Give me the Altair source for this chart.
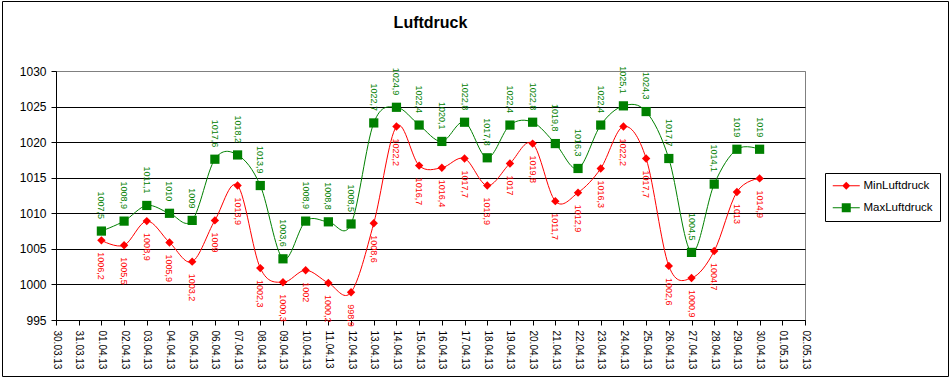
import json
import altair as alt
import pandas as pd

# ---- data ----
tick_labels = [
    "30.03.13", "31.03.13", "01.04.13", "02.04.13", "03.04.13", "04.04.13",
    "05.04.13", "06.04.13", "07.04.13", "08.04.13", "09.04.13", "10.04.13",
    "11.04.13", "12.04.13", "13.04.13", "14.04.13", "15.04.13", "16.04.13",
    "17.04.13", "18.04.13", "19.04.13", "20.04.13", "21.04.13", "22.04.13",
    "23.04.13", "24.04.13", "25.04.13", "26.04.13", "27.04.13", "28.04.13",
    "29.04.13", "30.04.13", "01.05.13", "02.05.13",
]
dates = tick_labels[2:32]  # 01.04.13 .. 30.04.13

min_luftdruck = [
    1006.2, 1005.5, 1008.9, 1005.9, 1003.2, 1009.0, 1013.9, 1002.3, 1000.3, 1002.0,
    1000.2, 998.9, 1008.6, 1022.2, 1016.7, 1016.4, 1017.7, 1013.9, 1017.0, 1019.8,
    1011.7, 1012.9, 1016.3, 1022.2, 1017.7, 1002.6, 1000.9, 1004.7, 1013.0, 1014.9,
]
max_luftdruck = [
    1007.5, 1008.9, 1011.1, 1010.0, 1009.0, 1017.6, 1018.2, 1013.9, 1003.6, 1008.9,
    1008.8, 1008.5, 1022.7, 1024.9, 1022.4, 1020.1, 1022.8, 1017.8, 1022.4, 1022.8,
    1019.8, 1016.3, 1022.4, 1025.1, 1024.3, 1017.7, 1004.5, 1014.1, 1019.0, 1019.0,
]
series_names = ["MinLuftdruck", "MaxLuftdruck"]
series_colors = ["#ff0000", "#008000"]
y_ticks = [995, 1000, 1005, 1010, 1015, 1020, 1025, 1030]

# ---- long table ----
rows = []
for name, values in zip(series_names, [min_luftdruck, max_luftdruck]):
    for d, v in zip(dates, values):
        rows.append({"series": name, "day": tick_labels.index(d), "date": d, "value": v})
df = pd.DataFrame(rows)

FONT = "Liberation Sans"

x_enc = alt.X(
    "day:Q",
    scale=alt.Scale(domain=[0, len(tick_labels) - 1], nice=False, zero=False),
    axis=alt.Axis(
        values=list(range(len(tick_labels))),
        labelExpr=json.dumps(tick_labels) + "[datum.value]",
        labelAngle=90, labelAlign="left", labelBaseline="middle",
        labelPadding=5, labelFontSize=10, labelFont=FONT, labelColor="black",
        labelOverlap=False, labelFlush=False, labelBound=False,
        grid=False, title=None, tickSize=5, tickColor="black",
        domainColor="black",
    ),
)
y_enc = alt.Y(
    "value:Q",
    scale=alt.Scale(domain=[995, 1030], nice=False, zero=False),
    axis=alt.Axis(
        values=y_ticks, grid=True, format="d",
        gridColor={"condition": {"test": "datum.value >= 1030", "value": "#808080"}, "value": "black"},
        gridOpacity=1, gridWidth=1,
        labelFontSize=12, labelFont=FONT, labelColor="black", labelPadding=5,
        tickSize=5, tickColor="black", domainColor="black", title=None,
    ),
)

base = alt.Chart(df).encode(x=x_enc, y=y_enc)
label_expr = "replace(toString(datum.value), '.', ',')"


def series_layers(name, color, shape, size, align, dx):
    sub = base.transform_filter(alt.datum.series == name)
    line = sub.mark_line(color=color, strokeWidth=1, interpolate="cardinal")
    pts = sub.mark_point(shape=shape, filled=True, color=color, size=size, opacity=1)
    txt = sub.transform_calculate(lbl=label_expr).mark_text(
        angle=90, align=align, baseline="middle", dx=dx, color=color,
        fontSize=9, font=FONT,
    ).encode(text="lbl:N")
    return [line, pts, txt]


# legend-only layer (no marks drawn)
path_min = "M-1,-0.1H4.4V0.1H-1Z M1.7,-0.8L2.5,0L1.7,0.8L0.9,0Z"
path_max = "M-1,-0.1H4.4V0.1H-1Z M0.8,-0.9H2.6V0.9H0.8Z"
legend = alt.Legend(
    title=None, orient="none", legendX=769, legendY=102,
    strokeColor="black", fillColor="white", padding=7, cornerRadius=0,
    labelFont=FONT, labelFontSize=11.5, labelColor="black",
    symbolSize=100, symbolStrokeWidth=0, labelOffset=20, rowPadding=9,
)
legend_layer = alt.Chart(df).transform_filter("false").mark_point(filled=True, opacity=1).encode(
    color=alt.Color("series:N", scale=alt.Scale(domain=series_names, range=series_colors), legend=legend),
    shape=alt.Shape("series:N", scale=alt.Scale(domain=series_names, range=[path_min, path_max]), legend=legend),
)

frame = alt.Chart(pd.DataFrame({"k": [0]})).mark_rect(
    fill="transparent", stroke="black", strokeWidth=1
).encode(
    x=alt.value(-53.5), x2=alt.value(892.5), y=alt.value(-69.5), y2=alt.value(305.5)
)

layers = [frame, legend_layer]
layers += series_layers(series_names[0], series_colors[0], "diamond", 70, "left", 12)
layers += series_layers(series_names[1], series_colors[1], "square", 85, "right", -12)

chart = alt.layer(*layers).properties(
    width=749, height=249,
    title=alt.TitleParams("Luftdruck", fontSize=16, fontWeight="bold", font=FONT,
                          color="black", anchor="middle", offset=0, dy=30),
    autosize=alt.AutoSizeParams(type="none"),
    padding={"left": 56, "top": 71, "right": 146, "bottom": 58},
    background="white",
).configure_view(
    fill="#c0c0c0", stroke="#808080", strokeWidth=1,
)

chart.save("out.html", embed_options={"renderer": "svg", "actions": False})
